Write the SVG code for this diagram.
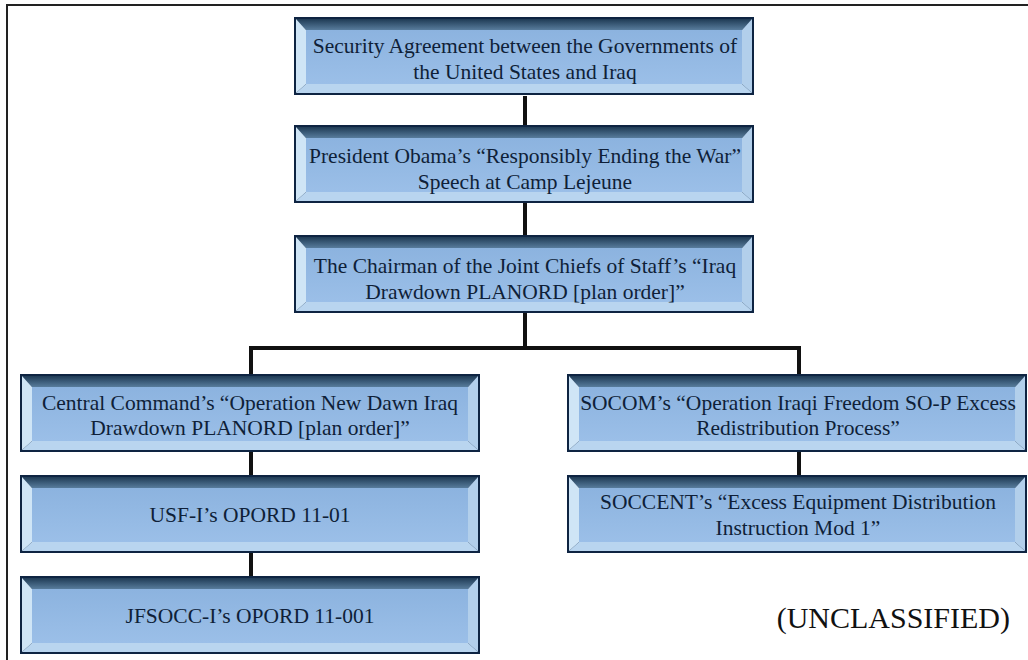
<svg xmlns="http://www.w3.org/2000/svg" width="1028" height="660" viewBox="0 0 1028 660">
<style>
.t{font-family:"Liberation Serif","Times New Roman",serif;font-size:21.5px;fill:#0f1f38;text-anchor:middle}
.c{stroke:#111;stroke-width:4;fill:none}
.u{font-family:"Liberation Serif","Times New Roman",serif;font-size:30px;fill:#111;text-anchor:end}
</style>
<defs>
<linearGradient id="topg" x1="0" y1="0" x2="0" y2="1">
<stop offset="0" stop-color="#1f3b55"/><stop offset="1" stop-color="#587c9c"/>
</linearGradient>
<linearGradient id="midg" x1="0" y1="0" x2="0" y2="1">
<stop offset="0" stop-color="#8cb3df"/><stop offset="1" stop-color="#9bbfe8"/>
</linearGradient>
<g id="box">
<rect x="0" y="0" width="460" height="78" fill="#0e2442"/>
<polygon points="2,2 458,2 448,13 12,13" fill="url(#topg)"/>
<polygon points="2,2 12,13 12,67 2,76" fill="#cfe5f6"/>
<polygon points="458,2 448,13 448,67 458,76" fill="#b2cfeb"/>
<polygon points="2,76 12,67 448,67 458,76" fill="#b9d5ef"/>
<rect x="12" y="13" width="436" height="54" fill="url(#midg)"/>
</g>
</defs>
<rect width="1028" height="660" fill="#fff"/>
<path d="M7,660 V5 H1028" stroke="#222" stroke-width="2" fill="none"/>
<g id="connectors">
<path class="c" d="M525,96 V125 M525,203 V235 M525,313 V348 M251,376 V348 H799 V376 M251,451 V477 M251,553 V578 M799,451 V477"/>
</g>
<g id="n1"><use href="#box" x="294" y="17"/>
<text class="t" x="525" y="53">Security Agreement between the Governments of</text>
<text class="t" x="525" y="79">the United States and Iraq</text></g>
<g id="n2"><use href="#box" x="294" y="125"/>
<text class="t" x="525" y="163">President Obama’s “Responsibly Ending the War”</text>
<text class="t" x="525" y="189">Speech at Camp Lejeune</text></g>
<g id="n3"><use href="#box" x="294" y="235"/>
<text class="t" x="525" y="273">The Chairman of the Joint Chiefs of Staff’s “Iraq</text>
<text class="t" x="525" y="299">Drawdown PLANORD [plan order]”</text></g>
<g id="n4"><use href="#box" x="20" y="374"/>
<text class="t" x="250" y="410">Central Command’s “Operation New Dawn Iraq</text>
<text class="t" x="250" y="435">Drawdown PLANORD [plan order]”</text></g>
<g id="n5"><use href="#box" x="20" y="475"/>
<text class="t" x="250" y="522">USF-I’s OPORD 11-01</text></g>
<g id="n6"><use href="#box" x="20" y="576"/>
<text class="t" x="250" y="623">JFSOCC-I’s OPORD 11-001</text></g>
<g id="n7"><use href="#box" x="567" y="374"/>
<text class="t" x="798" y="410">SOCOM’s “Operation Iraqi  Freedom SO-P Excess</text>
<text class="t" x="798" y="435">Redistribution Process”</text></g>
<g id="n8"><use href="#box" x="567" y="475"/>
<text class="t" x="798" y="509">SOCCENT’s “Excess Equipment Distribution</text>
<text class="t" x="798" y="535">Instruction Mod 1”</text></g>
<text class="u" x="1010" y="628">(UNCLASSIFIED)</text>
</svg>
